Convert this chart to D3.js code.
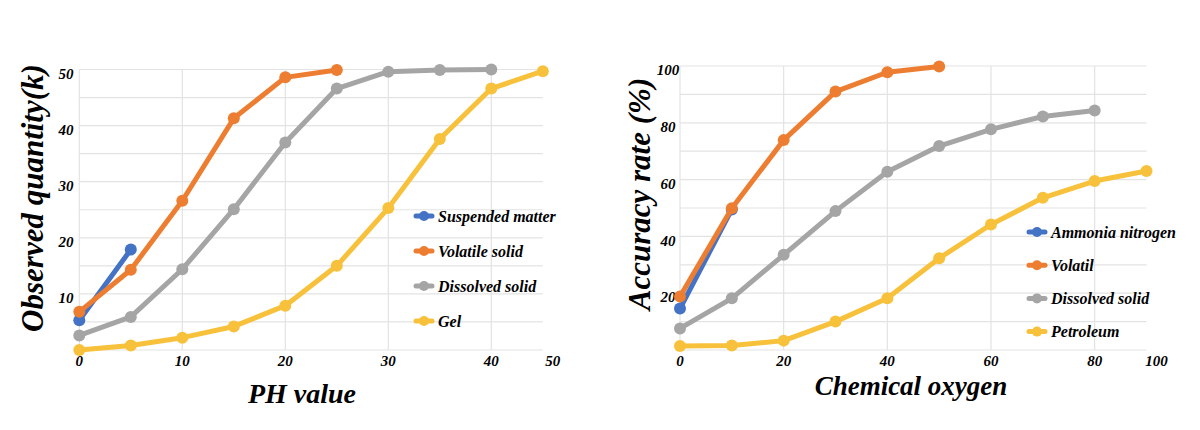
<!DOCTYPE html>
<html>
<head>
<meta charset="utf-8">
<script src="https://cdn.jsdelivr.net/npm/d3@7"></script>
<style>
  html, body { margin: 0; padding: 0; background: #fff; }
  svg { display: block; }
  text { font-family: "Liberation Serif", "Times New Roman", serif; font-weight: bold; font-style: italic; fill: #000; }
</style>
</head>
<body>
<svg id="chart" width="1200" height="430"></svg>
<script>
// ---------- Left panel data ----------
const leftX = [0, 5, 10, 15, 20, 25, 30, 35, 40, 45];
const leftSeriesNames = ["Suspended matter", "Volatile solid", "Dissolved solid", "Gel"];
const leftSuspended = [5.3, 17.9];
const leftVolatile  = [6.8, 14.3, 26.6, 41.3, 48.6, 49.9];
const leftDissolved = [2.6, 5.9, 14.4, 25.1, 37.0, 46.6, 49.6, 49.9, 50.0];
const leftGel       = [0.0, 0.8, 2.2, 4.2, 7.9, 15.0, 25.3, 37.6, 46.6, 49.7];
const leftXTicks = [0, 10, 20, 30, 40, 50];
const leftYTicks = [10, 20, 30, 40, 50];
const leftXTitle = "PH value";
const leftYTitle = "Observed quantity(k)";

// ---------- Right panel data ----------
const rightX = [0, 10, 20, 30, 40, 50, 60, 70, 80, 90];
const rightSeriesNames = ["Ammonia nitrogen", "Volatil", "Dissolved solid", "Petroleum"];
const rightAmmonia   = [14.6, 49.5];
const rightVolatil   = [18.8, 49.9, 73.9, 91.0, 97.8, 99.8];
const rightDissolved = [7.6, 18.2, 33.5, 48.9, 62.8, 71.8, 77.7, 82.2, 84.3];
const rightPetroleum = [1.4, 1.6, 3.3, 10.0, 18.2, 32.3, 44.2, 53.6, 59.5, 63.0];
const rightXTicks = [0, 20, 40, 60, 80, 100];
const rightYTicks = [20, 40, 60, 80, 100];
const rightXTitle = "Chemical oxygen";
const rightYTitle = "Accuracy rate (%)";

const colors = ["#4472C4", "#ED7D31", "#A5A5A5", "#F8C13C"];

const svg = d3.select("#chart");

function drawPanel(p) {
  const g = svg.append("g");
  const x = d3.scaleLinear().domain([p.x[0], p.x[p.x.length - 1]]).range([p.left, p.right]);
  const y = d3.scaleLinear().domain([0, p.yMax]).range([p.bottom, p.top]);

  // horizontal gridlines
  g.append("g").selectAll("line").data(d3.range(0, p.yMax + 0.001, p.gridStep)).join("line")
    .attr("x1", p.left).attr("x2", p.right)
    .attr("y1", d => y(d)).attr("y2", d => y(d))
    .attr("stroke", "#e3e3e3").attr("stroke-width", 1.2);
  // vertical gridlines
  g.append("g").selectAll("line").data(p.xTicks.filter(v => v <= x.domain()[1])).join("line")
    .attr("x1", d => x(d)).attr("x2", d => x(d))
    .attr("y1", p.top).attr("y2", p.bottom)
    .attr("stroke", "#e3e3e3").attr("stroke-width", 1.2);

  // y tick labels
  g.append("g").selectAll("text").data(p.yTicks).join("text")
    .attr("x", p.yLabelX).attr("y", d => y(d) + 4)
    .attr("dy", "0.35em").attr("text-anchor", "middle")
    .style("font-size", "15px").text(d => d);
  // x tick labels
  g.append("g").selectAll("text").data(p.xTicks).join("text")
    .attr("x", d => d <= x.domain()[1] ? x(d) : p.right + 10)
    .attr("y", p.bottom + 16)
    .attr("text-anchor", "middle")
    .style("font-size", "15px").text(d => d);

  // lines
  const line = d3.line().x((d, i) => x(p.x[i])).y(d => y(d));
  p.series.forEach((s, k) => {
    const sg = g.append("g");
    sg.append("path").datum(s).attr("d", line)
      .attr("fill", "none").attr("stroke", colors[k]).attr("stroke-width", 5)
      .attr("stroke-linejoin", "round").attr("stroke-linecap", "round");
    sg.selectAll("circle").data(s).join("circle")
      .attr("cx", (d, i) => x(p.x[i])).attr("cy", d => y(d)).attr("r", 6)
      .attr("fill", colors[k]);
  });

  // legend
  const lg = g.append("g");
  p.names.forEach((n, k) => {
    const yy = p.legendY + k * p.legendStep;
    lg.append("line").attr("x1", p.legendX - 8).attr("x2", p.legendX + 8)
      .attr("y1", yy).attr("y2", yy).attr("stroke", colors[k]).attr("stroke-width", 5)
      .attr("stroke-linecap", "round");
    lg.append("circle").attr("cx", p.legendX).attr("cy", yy).attr("r", 5).attr("fill", colors[k]);
    lg.append("text").attr("x", p.legendX + 14).attr("y", yy).attr("dy", "0.35em")
      .style("font-size", "16px").text(n);
  });

  // titles
  g.append("text").attr("x", p.xTitleX).attr("y", p.xTitleY).attr("text-anchor", "middle")
    .style("font-size", p.xTitleSize + "px").text(p.xTitle);
  g.append("text").attr("transform", `translate(${p.yTitleX},${p.yTitleY}) rotate(-90)`)
    .attr("text-anchor", "middle").style("font-size", p.yTitleSize + "px").text(p.yTitle);
}

drawPanel({
  x: leftX, yMax: 50, gridStep: 5,
  left: 79.3, right: 542.8, top: 69.5, bottom: 350,
  series: [leftSuspended, leftVolatile, leftDissolved, leftGel],
  names: leftSeriesNames, xTicks: leftXTicks, yTicks: leftYTicks,
  yLabelX: 66, legendX: 424, legendY: 216, legendStep: 35,
  xTitle: leftXTitle, yTitle: leftYTitle, xTitleSize: 28, yTitleSize: 31,
  xTitleX: 302, xTitleY: 403, yTitleX: 43, yTitleY: 198
});

drawPanel({
  x: rightX, yMax: 100, gridStep: 10,
  left: 680, right: 1146.5, top: 66, bottom: 350,
  series: [rightAmmonia, rightVolatil, rightDissolved, rightPetroleum],
  names: rightSeriesNames, xTicks: rightXTicks, yTicks: rightYTicks,
  yLabelX: 668, legendX: 1037, legendY: 232, legendStep: 33.2,
  xTitle: rightXTitle, yTitle: rightYTitle, xTitleSize: 27, yTitleSize: 31,
  xTitleX: 911, xTitleY: 395, yTitleX: 650, yTitleY: 194
});
</script>
</body>
</html>
